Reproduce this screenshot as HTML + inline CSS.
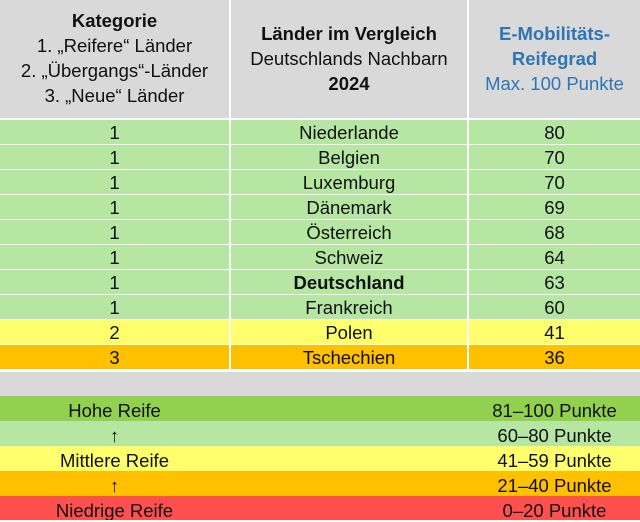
<!DOCTYPE html>
<html><head><meta charset="utf-8"><style>
body{margin:0;width:640px;height:522px;background:#fff;font-family:"Liberation Sans",Arial,sans-serif;color:#111;overflow:hidden;position:relative}
.r{position:absolute;left:0;width:640px;height:24px;font-size:18.5px;line-height:25px}
.c{position:absolute;top:0;height:100%;text-align:center}
.c1{left:0;width:229px}.c2{left:231px;width:236px}.c3{left:469px;width:171px}
.h{position:absolute;top:0;height:118px;background:#d9d9d9;text-align:center;font-size:18.5px;line-height:25px}
.g{background:#b5e6a2}.y{background:#ffff6e}.o{background:#ffc000}
.L{line-height:29px}
</style></head><body>
<div class="h" style="left:0;width:229px;padding-top:8px;box-sizing:border-box"><b>Kategorie</b><br>1. „Reifere“ Länder<br>2. „Übergangs“-Länder<br>3. „Neue“ Länder</div>
<div class="h" style="left:231px;width:236px;padding-top:21px;box-sizing:border-box"><b>Länder im Vergleich</b><br>Deutschlands Nachbarn<br><b>2024</b></div>
<div class="h" style="left:469px;width:171px;padding-top:21px;box-sizing:border-box;color:#2e75b6"><b>E-Mobilitäts-</b><br><b>Reifegrad</b><br>Max. 100 Punkte</div>

<div class="r" style="top:120px"><div class="c c1 g">1</div><div class="c c2 g">Niederlande</div><div class="c c3 g">80</div></div>
<div class="r" style="top:145px"><div class="c c1 g">1</div><div class="c c2 g">Belgien</div><div class="c c3 g">70</div></div>
<div class="r" style="top:170px"><div class="c c1 g">1</div><div class="c c2 g">Luxemburg</div><div class="c c3 g">70</div></div>
<div class="r" style="top:195px"><div class="c c1 g">1</div><div class="c c2 g">Dänemark</div><div class="c c3 g">69</div></div>
<div class="r" style="top:220px"><div class="c c1 g">1</div><div class="c c2 g">Österreich</div><div class="c c3 g">68</div></div>
<div class="r" style="top:245px"><div class="c c1 g">1</div><div class="c c2 g">Schweiz</div><div class="c c3 g">64</div></div>
<div class="r" style="top:270px"><div class="c c1 g">1</div><div class="c c2 g"><b>Deutschland</b></div><div class="c c3 g">63</div></div>
<div class="r" style="top:295px"><div class="c c1 g">1</div><div class="c c2 g">Frankreich</div><div class="c c3 g">60</div></div>
<div class="r" style="top:320px"><div class="c c1 y">2</div><div class="c c2 y">Polen</div><div class="c c3 y">41</div></div>
<div class="r" style="top:345px"><div class="c c1 o">3</div><div class="c c2 o">Tschechien</div><div class="c c3 o">36</div></div>

<div style="position:absolute;top:372px;left:0;width:640px;height:24px;background:#d9d9d9"></div>
<div class="r L" style="top:396px;height:25px;background:#92d050"><div class="c c1">Hohe Reife</div><div class="c c3">81–100 Punkte</div></div>
<div class="r L" style="top:421px;height:25px;background:#b5e6a2"><div class="c c1">↑</div><div class="c c3">60–80 Punkte</div></div>
<div class="r L" style="top:446px;height:25px;background:#ffff6e"><div class="c c1">Mittlere Reife</div><div class="c c3">41–59 Punkte</div></div>
<div class="r L" style="top:471px;height:25px;background:#ffc000"><div class="c c1">↑</div><div class="c c3">21–40 Punkte</div></div>
<div class="r L" style="top:496px;height:24px;background:#ff5050;overflow:hidden"><div class="c c1">Niedrige Reife</div><div class="c c3">0–20 Punkte</div></div>
</body></html>
